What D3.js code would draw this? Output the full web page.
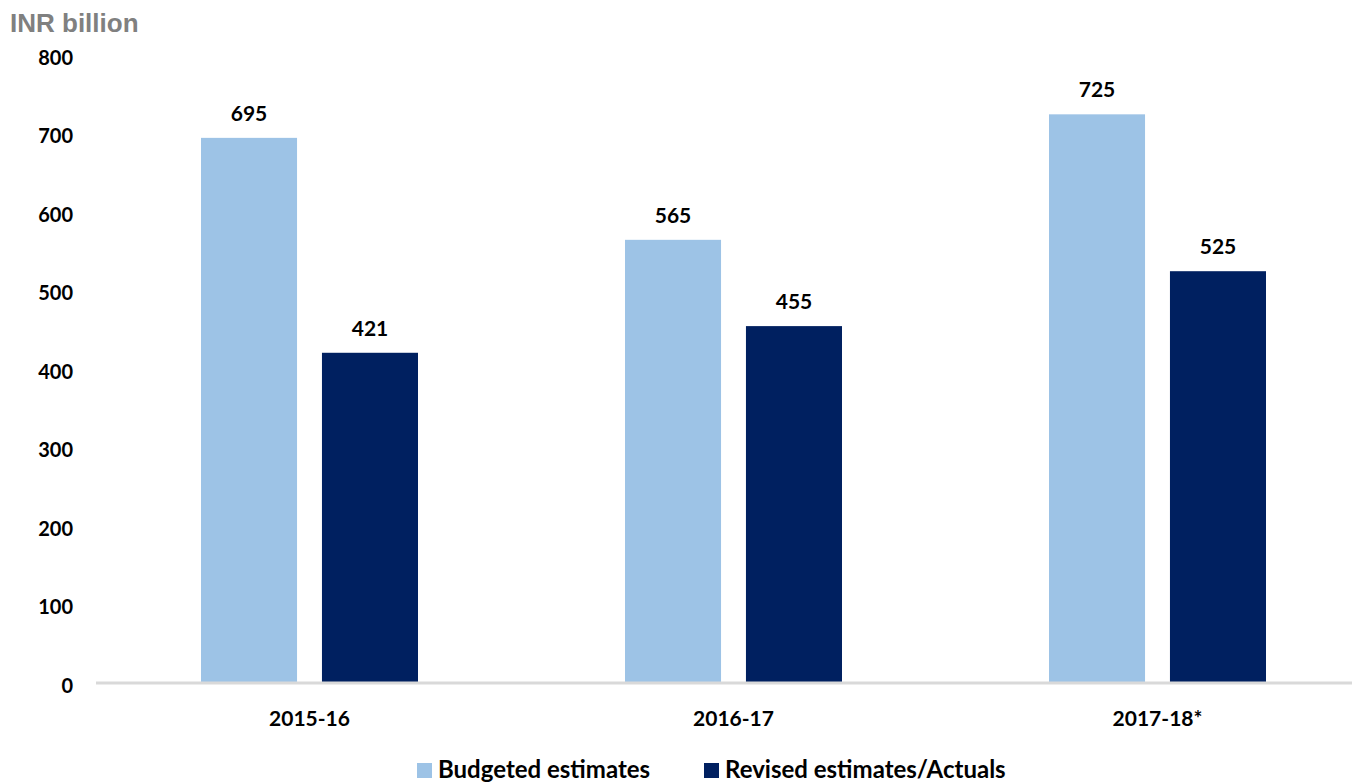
<!DOCTYPE html>
<html><head><meta charset="utf-8">
<script src="https://cdn.jsdelivr.net/npm/d3@7"></script>
<style>body{margin:0;background:#fff;}svg{display:block;}</style>
</head><body>
<svg id="c" width="1352" height="784"></svg>
<script>
const categories = ["2015-16", "2016-17", "2017-18*"];
const seriesNames = ["Budgeted estimates", "Revised estimates/Actuals"];
const budgeted = [695, 565, 725];
const revised = [421, 455, 525];
const yTicks = [0, 100, 200, 300, 400, 500, 600, 700, 800];
const colors = ["#9dc3e6", "#002060"];
const unitLabel = "INR billion";

const svg = d3.select("#c");
const font = "Lato, 'Open Sans', sans-serif";
const y = d3.scaleLinear().domain([0, 800]).range([683, 55.5]);
const x0 = d3.scaleBand().domain(categories).range([97.5, 1369.5]).paddingInner(0).paddingOuter(0);
const x1 = d3.scaleBand().domain(seriesNames).range([x0.bandwidth()/2 - 108.5, x0.bandwidth()/2 + 108.5]).paddingInner(0.206).paddingOuter(0);

const data = categories.map((c, i) => ({cat: c, vals: [budgeted[i], revised[i]]}));

const g = svg.append("g");
const groups = g.selectAll("g.cat").data(data).join("g")
  .attr("transform", d => `translate(${x0(d.cat)},0)`);
groups.selectAll("rect").data(d => d.vals.map((v, j) => ({v, s: seriesNames[j], j})))
  .join("rect")
  .attr("x", d => x1(d.s)).attr("width", x1.bandwidth())
  .attr("y", d => y(d.v)).attr("height", d => y(0) - y(d.v))
  .attr("fill", d => colors[d.j]);
groups.selectAll("text.val").data(d => d.vals.map((v, j) => ({v, s: seriesNames[j]})))
  .join("text").attr("class", "val")
  .attr("x", d => x1(d.s) + x1.bandwidth()/2)
  .attr("y", d => y(d.v) - 17)
  .attr("text-anchor", "middle")
  .attr("font-family", font).attr("font-weight", "bold").attr("font-size", 21)
  .attr("fill", "#000").text(d => d.v);

// baseline axis
svg.append("line").attr("x1", 96).attr("x2", 1352).attr("y1", y(0)).attr("y2", y(0))
  .attr("stroke", "#d9d9d9").attr("stroke-width", 3);

// y axis labels
const yAxis = d3.axisLeft(y).tickValues(yTicks).tickSize(0).tickPadding(0);
const ya = svg.append("g").attr("transform", "translate(73,0)").call(yAxis);
ya.select(".domain").remove();
ya.selectAll("text").attr("font-family", font).attr("font-weight", "bold")
  .attr("font-size", 20).attr("fill", "#000").attr("dy", "0.45em");

// x axis labels
const xAxis = d3.axisBottom(x0).tickSize(0).tickPadding(0);
const xa = svg.append("g").attr("transform", `translate(0,${y(0)})`).call(xAxis);
xa.select(".domain").remove();
xa.selectAll("text").attr("font-family", font).attr("font-weight", "bold")
  .attr("font-size", 21).attr("fill", "#000").attr("y", 43).attr("dy", 0);

// unit label
svg.append("text").attr("x", 10).attr("y", 32).text(unitLabel)
  .attr("font-family", "'Liberation Sans', Arial, sans-serif").attr("font-weight", "bold")
  .attr("font-size", 26).attr("fill", "#808080");

// legend
const legX = [417, 704];
const leg = svg.append("g");
seriesNames.forEach((s, i) => {
  leg.append("rect").attr("x", legX[i]).attr("y", 763).attr("width", 15).attr("height", 15).attr("fill", colors[i]);
  leg.append("text").attr("x", legX[i] + 21).attr("y", 778).text(s)
    .attr("font-family", font).attr("font-weight", "bold").attr("font-size", 24).attr("fill", "#000");
});
</script>
</body></html>
